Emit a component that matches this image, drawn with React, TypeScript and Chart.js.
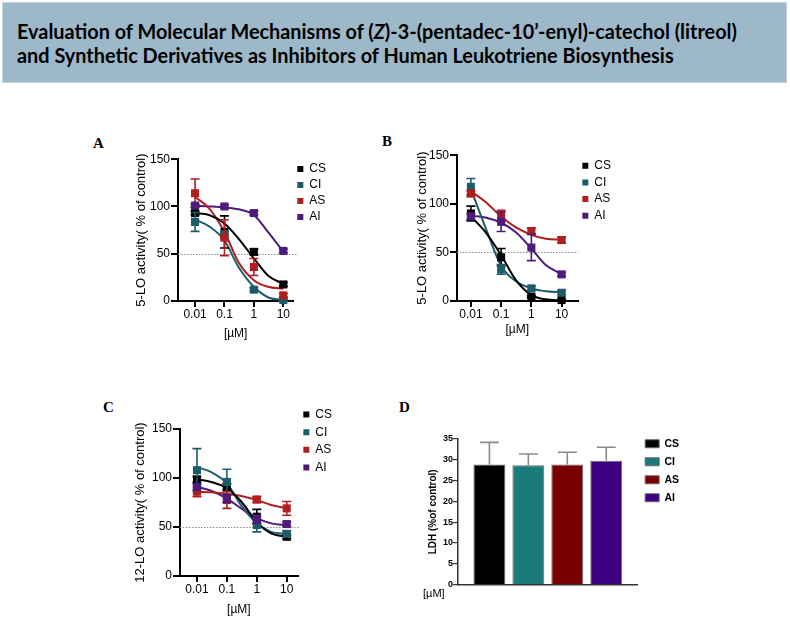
import React, { useEffect, useLayoutEffect, useRef } from 'react';
import { Chart, registerables } from 'chart.js';

Chart.register(...registerables);
Chart.defaults.color = '#000';
Chart.defaults.font.family = '"Liberation Sans", Arial, sans-serif';

// ---------- shared data ----------
const SERIES = ['CS', 'CI', 'AS', 'AI'];
const DOSES = [0.01, 0.1, 1, 10];
const CURVE_DOSES = [0.01, 0.03, 0.1, 0.3, 1, 3, 10];
const X_TICKS = [0.01, 0.1, 1, 10];
const Y_TICKS_ACTIVITY = [0, 50, 100, 150];
const Y_TICKS_LDH = [0, 5, 10, 15, 20, 25, 30, 35];

const LINE_COLORS = ['#000000', '#1d5c6b', '#b01e1e', '#4e1b7b'];
const BAR_COLORS = ['#000000', '#1b7b7b', '#7a0000', '#3c0080'];

// ---------- Panel A: 5-LO activity ----------
const A_CS = [93, 73, 52, 17.5];
const A_CI = [83.6, 70, 12, 1];
const A_AS = [114, 67, 36, 6];
const A_AI = [101, 100, 93, 53];
const A_CS_ERR = [2, 17, 3, 2];
const A_CI_ERR = [10, 4, 2, 1];
const A_AS_ERR = [15, 19, 9, 2];
const A_AI_ERR = [1.5, 1.5, 2, 2];
const A_CS_FIT = [93, 91, 82, 66, 45, 27, 18];
const A_CI_FIT = [86, 79, 64, 36, 15, 4, 1];
const A_AS_FIT = [110, 98, 73, 41, 22, 15, 13];
const A_AI_FIT = [100.6, 100, 99, 97, 91, 73, 52];

// ---------- Panel B: 5-LO activity ----------
const B_CS = [90, 45, 4.5, 1];
const B_CI = [117.5, 32.5, 13, 8.5];
const B_AS = [110.6, 87.7, 72, 62.7];
const B_AI = [87, 81.5, 55, 27.4];
const B_CS_ERR = [7.6, 9, 1, 1];
const B_CI_ERR = [8.5, 5, 2, 2];
const B_AS_ERR = [3, 5.5, 3, 3];
const B_AI_ERR = [3, 10, 13.5, 2];
const B_CS_FIT = [87, 71, 47, 22, 6, 1.7, 0.5];
const B_CI_FIT = [115, 76, 36, 20.5, 13, 10, 9.2];
const B_AS_FIT = [113, 102, 87, 76, 68, 64, 63];
const B_AI_FIT = [87.7, 86, 80.5, 71, 54, 37, 27.7];

// ---------- Panel C: 12-LO activity ----------
const C_CS = [98.6, 91, 60.5, 40];
const C_CI = [108, 96, 52, 43];
const C_AS = [86, 77.5, 78, 69];
const C_AI = [91, 79, 58, 53];
const C_CS_ERR = [3, 3, 7.5, 2];
const C_CI_ERR = [22, 13, 7, 3];
const C_AS_ERR = [5, 8.5, 3, 7];
const C_AI_ERR = [3, 4, 4, 2];
const C_CS_FIT = [98.6, 96, 89.5, 76, 55, 43.5, 40];
const C_CI_FIT = [111, 106, 94.5, 72, 53.7, 45, 43];
const C_AS_FIT = [86, 85.4, 83.7, 81.6, 77.5, 72.5, 69];
const C_AI_FIT = [91, 87, 79, 69, 59, 53.7, 52];

// ---------- Panel D: LDH ----------
const D_VALUES = [28.9, 28.7, 28.9, 29.8];
const D_ERRORS = [5.3, 2.7, 2.9, 3.2];

// ---------- plugins ----------
function drawErrors(chart: any, index: number, mode: string) {
  const ds = chart.data.datasets[index];
  if (!ds.errorBars || ds.errorMode !== mode) return;
  const meta = chart.getDatasetMeta(index);
  const yScale = chart.scales[meta.yAxisID];
  const ctx = chart.ctx;
  ctx.save();
  ctx.strokeStyle = ds.errorColor;
  ctx.lineWidth = ds.errorWidth;
  meta.data.forEach((el: any, j: number) => {
    const raw = ds.data[j];
    const v = typeof raw === 'number' ? raw : raw.y;
    const e = ds.errorBars[j];
    if (!e) return;
    const x = el.x;
    const yTop = yScale.getPixelForValue(v + e);
    const yBot = mode === 'up' ? yScale.getPixelForValue(v) : yScale.getPixelForValue(v - e);
    const half = ds.capWidth / 2;
    ctx.beginPath();
    ctx.moveTo(x, yTop);
    ctx.lineTo(x, yBot);
    ctx.moveTo(x - half, yTop);
    ctx.lineTo(x + half, yTop);
    if (mode === 'both') {
      ctx.moveTo(x - half, yBot);
      ctx.lineTo(x + half, yBot);
    }
    ctx.stroke();
  });
  ctx.restore();
}

const errorBarPlugin = {
  id: 'errorBars',
  beforeDatasetDraw(chart: any, args: any) {
    drawErrors(chart, args.index, 'both');
  },
  afterDatasetDraw(chart: any, args: any) {
    drawErrors(chart, args.index, 'up');
  },
};

const refLinePlugin = {
  id: 'refLine',
  beforeDatasetsDraw(chart: any, _args: any, opts: any) {
    if (!opts || opts.value == null) return;
    const { ctx, chartArea } = chart;
    const y = Math.round(chart.scales.y.getPixelForValue(opts.value)) + 0.5;
    ctx.save();
    ctx.strokeStyle = opts.color;
    ctx.lineWidth = 1;
    ctx.setLineDash([1.5, 1.5]);
    ctx.beginPath();
    ctx.moveTo(chartArea.left, y);
    ctx.lineTo(chartArea.right + (opts.extend || 0), y);
    ctx.stroke();
    ctx.restore();
  },
};

// ---------- config builders ----------
type LinePanel = {
  values: number[][];
  errors: number[][];
  fits: number[][];
  xMin: number;
  xMax: number;
  yTitle: string;
  yAxisWidth: number;
  xAxisHeight: number;
  xTitlePad: number;
  layoutTop: number;
  topOffset: number;
  legendPadding: number;
  refExtend: number;
};

function lineConfig(p: LinePanel): any {
  const datasets: any[] = [];
  SERIES.forEach((name, i) => {
    datasets.push({
      label: name + ' fit',
      isFit: true,
      data: CURVE_DOSES.map((x, j) => ({ x, y: p.fits[i][j] })),
      borderColor: LINE_COLORS[i],
      backgroundColor: LINE_COLORS[i],
      borderWidth: 2,
      pointRadius: 0,
      pointHoverRadius: 0,
      cubicInterpolationMode: 'monotone',
      fill: false,
      clip: false,
      order: 20 + i,
    });
  });
  SERIES.forEach((name, i) => {
    datasets.push({
      label: name,
      showLine: false,
      data: DOSES.map((x, j) => ({ x, y: p.values[i][j] })),
      backgroundColor: LINE_COLORS[i],
      borderColor: LINE_COLORS[i],
      borderWidth: 0,
      pointStyle: 'rect',
      pointRadius: 5.7,
      pointHoverRadius: 5.7,
      pointBorderWidth: 0,
      clip: false,
      order: 4 - i,
      errorBars: p.errors[i],
      errorMode: 'both',
      errorColor: LINE_COLORS[i],
      errorWidth: 1.6,
      capWidth: 9,
    });
  });
  return {
    type: 'line',
    data: { datasets },
    plugins: [errorBarPlugin, refLinePlugin],
    options: {
      animation: false,
      responsive: false,
      events: [],
      layout: { padding: { top: p.layoutTop, left: 0, right: 0, bottom: 0 } },
      plugins: {
        refLine: { value: 50, color: '#8a8a8a', extend: p.refExtend },
        tooltip: { enabled: false },
        title: p.topOffset
          ? { display: true, text: '', font: { size: 1 }, padding: { top: p.topOffset, bottom: 0 } }
          : { display: false },
        legend: {
          position: 'right',
          align: 'start',
          labels: {
            boxWidth: 6,
            boxHeight: 6,
            padding: p.legendPadding,
            font: { size: 12 },
            color: '#000',
            filter: (item: any, data: any) => !data.datasets[item.datasetIndex].isFit,
            sort: (a: any, b: any) => a.datasetIndex - b.datasetIndex,
          },
        },
      },
      scales: {
        x: {
          type: 'logarithmic',
          min: p.xMin,
          max: p.xMax,
          afterBuildTicks: (s: any) => {
            s.ticks = X_TICKS.map((v) => ({ value: v }));
          },
          afterFit: (s: any) => {
            s.height = p.xAxisHeight;
          },
          ticks: {
            autoSkip: false,
            maxRotation: 0,
            padding: 0,
            font: { size: 12 },
            color: '#000',
            callback: (v: any) => String(v),
          },
          grid: { drawOnChartArea: false, drawTicks: true, tickLength: 6, color: '#000', lineWidth: 2 },
          border: { display: true, color: '#000', width: 2 },
          title: {
            display: true,
            text: '[µM]',
            font: { size: 12 },
            color: '#000',
            padding: { top: 0, bottom: p.xTitlePad },
          },
        },
        y: {
          type: 'linear',
          min: 0,
          max: 150,
          afterBuildTicks: (s: any) => {
            s.ticks = Y_TICKS_ACTIVITY.map((v) => ({ value: v }));
          },
          afterFit: (s: any) => {
            s.width = p.yAxisWidth;
          },
          ticks: { padding: 1, font: { size: 12 }, color: '#000' },
          grid: { drawOnChartArea: false, drawTicks: true, tickLength: 7, color: '#000', lineWidth: 2 },
          border: { display: true, color: '#000', width: 2 },
          title: {
            display: true,
            text: p.yTitle,
            font: { size: 13 },
            color: '#000',
            padding: { top: 2, bottom: 0 },
          },
        },
      },
    },
  };
}

function barConfig(): any {
  const datasets = SERIES.map((name, i) => ({
    label: name,
    data: [D_VALUES[i]],
    backgroundColor: BAR_COLORS[i],
    borderColor: '#6a6a6a',
    borderWidth: 1,
    categoryPercentage: 0.867,
    barPercentage: 0.82,
    errorBars: [D_ERRORS[i]],
    errorMode: 'up',
    errorColor: '#8a8a8a',
    errorWidth: 1.6,
    capWidth: 19,
  }));
  return {
    type: 'bar',
    data: { labels: [''], datasets },
    plugins: [errorBarPlugin],
    options: {
      animation: false,
      responsive: false,
      events: [],
      layout: { padding: 0 },
      plugins: {
        tooltip: { enabled: false },
        title: { display: true, text: '', font: { size: 5 }, padding: { top: 2, bottom: 0 } },
        legend: {
          position: 'right',
          align: 'start',
          labels: {
            boxWidth: 14,
            boxHeight: 8,
            padding: 7.5,
            font: { size: 10.5, weight: 'bold' },
            color: '#000',
          },
        },
      },
      scales: {
        x: {
          type: 'category',
          afterFit: (s: any) => {
            s.height = 4;
          },
          ticks: { display: false },
          grid: { display: false },
          border: { display: true, color: '#333', width: 1.5 },
        },
        y: {
          type: 'linear',
          min: 0,
          max: 35,
          afterBuildTicks: (s: any) => {
            s.ticks = Y_TICKS_LDH.map((v) => ({ value: v }));
          },
          afterFit: (s: any) => {
            s.width = 33;
          },
          ticks: { padding: 0, font: { size: 9, weight: 'bold' }, color: '#000' },
          grid: { drawOnChartArea: false, drawTicks: true, tickLength: 5, color: '#333', lineWidth: 1.2 },
          border: { display: true, color: '#333', width: 1.5 },
          title: {
            display: true,
            text: 'LDH (%of control)',
            font: { size: 10, weight: 'bold' },
            color: '#000',
            padding: { top: 2, bottom: 0 },
          },
        },
      },
    },
  };
}

// ---------- components ----------
function ChartBox(props: { left: number; top: number; width: number; height: number; config: () => any }) {
  const ref = useRef<HTMLCanvasElement>(null);
  useEffect(() => {
    const chart = new Chart(ref.current as HTMLCanvasElement, props.config());
    return () => chart.destroy();
  }, []);
  return (
    <canvas
      ref={ref}
      width={props.width}
      height={props.height}
      style={{
        position: 'absolute',
        left: props.left,
        top: props.top,
        width: props.width,
        height: props.height,
      }}
    />
  );
}

const panelLabel = (text: string, left: number, top: number) => (
  <div
    style={{
      position: 'absolute',
      left,
      top,
      font: 'bold 15px "Liberation Serif", "Times New Roman", serif',
      lineHeight: '15px',
      color: '#000',
    }}
  >
    {text}
  </div>
);

const panelA: LinePanel = {
  values: [A_CS, A_CI, A_AS, A_AI],
  errors: [A_CS_ERR, A_CI_ERR, A_AS_ERR, A_AI_ERR],
  fits: [A_CS_FIT, A_CI_FIT, A_AS_FIT, A_AI_FIT],
  xMin: 0.00263,
  xMax: 21.9,
  yTitle: '5-LO activity( % of control)',
  yAxisWidth: 46,
  xAxisHeight: 45,
  xTitlePad: 5,
  layoutTop: 8,
  topOffset: 0,
  legendPadding: 4,
  refExtend: 4,
};

const panelB: LinePanel = {
  values: [B_CS, B_CI, B_AS, B_AI],
  errors: [B_CS_ERR, B_CI_ERR, B_AS_ERR, B_AI_ERR],
  fits: [B_CS_FIT, B_CI_FIT, B_AS_FIT, B_AI_FIT],
  xMin: 0.00347,
  xMax: 33.9,
  yTitle: '5-LO activity( % of control)',
  yAxisWidth: 44,
  xAxisHeight: 41,
  xTitlePad: 5,
  layoutTop: 8,
  topOffset: 0,
  legendPadding: 4.7,
  refExtend: 0,
};

const panelC: LinePanel = {
  values: [C_CS, C_CI, C_AS, C_AI],
  errors: [C_CS_ERR, C_CI_ERR, C_AS_ERR, C_AI_ERR],
  fits: [C_CS_FIT, C_CI_FIT, C_AS_FIT, C_AI_FIT],
  xMin: 0.00271,
  xMax: 23.3,
  yTitle: '12-LO activity( % of control)',
  yAxisWidth: 49,
  xAxisHeight: 41,
  xTitlePad: 0,
  layoutTop: 0,
  topOffset: 24.8,
  legendPadding: 5.6,
  refExtend: 2,
};

function Header() {
  const boxRef = useRef<HTMLDivElement>(null);
  const lineRef = useRef<HTMLDivElement>(null);
  useLayoutEffect(() => {
    const box = boxRef.current;
    const line = lineRef.current;
    if (!box || !line) return;
    const w = line.getBoundingClientRect().width;
    if (w > 0) box.style.transform = `scaleX(${720 / w})`;
  }, []);
  const lineStyle: React.CSSProperties = { whiteSpace: 'nowrap', width: 'max-content', height: 24 };
  return (
    <div
      ref={boxRef}
      style={{
        position: 'absolute',
        left: 17,
        top: 19,
        font: 'bold 20px Lato, "Open Sans", "Liberation Sans", sans-serif',
        lineHeight: '24px',
        color: '#000',
        transformOrigin: '0 0',
      }}
    >
      <div ref={lineRef} style={lineStyle}>
        Evaluation of Molecular Mechanisms of (<i>Z</i>)-3-(pentadec-10’-enyl)-catechol (litreol)
      </div>
      <div style={lineStyle}>and Synthetic Derivatives as Inhibitors of Human Leukotriene Biosynthesis</div>
    </div>
  );
}

export default function App() {
  return (
    <div
      style={{
        position: 'fixed',
        left: 0,
        top: 0,
        width: 790,
        height: 620,
        background: '#ffffff',
        overflow: 'hidden',
      }}
    >
      <div
        style={{
          position: 'absolute',
          left: 2,
          top: 2,
          width: 785,
          height: 81,
          background: '#9db8c8',
          boxSizing: 'border-box',
          border: '1px solid #c3d3de',
        }}
      />
      <Header />

      {panelLabel('A', 93, 136)}
      {panelLabel('B', 382, 134)}
      {panelLabel('C', 103, 400)}
      {panelLabel('D', 399, 400)}

      <ChartBox left={132} top={151} width={204} height={195} config={() => lineConfig(panelA)} />
      <ChartBox left={413} top={147} width={208} height={195} config={() => lineConfig(panelB)} />
      <ChartBox left={131} top={403} width={211} height={214} config={() => lineConfig(panelC)} />
      <ChartBox left={425} top={431} width={264} height={159} config={barConfig} />

      <div
        style={{
          position: 'absolute',
          left: 423,
          top: 586,
          font: '11px "Liberation Sans", Arial, sans-serif',
          lineHeight: '14px',
          color: '#000',
        }}
      >
        [µM]
      </div>
    </div>
  );
}
